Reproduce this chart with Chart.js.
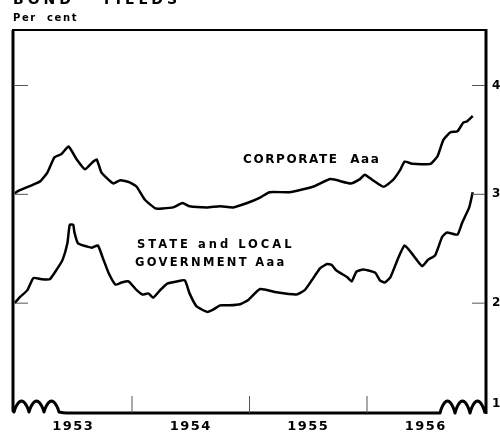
<!DOCTYPE html>
<html lang="en">
<head>
    <meta charset="UTF-8">
    <title>Bond Yields</title>
    <script src="https://cdn.jsdelivr.net/npm/chart.js"></script>
    <style>
        body {
            margin: 0;
            padding: 0;
            background-color: #fff;
        }
        #chart {
            display: block;
        }
    </style>
</head>
<body>
    <canvas id="chart" width="500" height="433"></canvas>

    <script>
        // data (year as decimal, yield in per cent)
        const corporateYears = [1953.00, 1953.05, 1953.16, 1953.22, 1953.28, 1953.34, 1953.40, 1953.46, 1953.53, 1953.60, 1953.66, 1953.70, 1953.74, 1953.84, 1953.90, 1953.98,
            1954.04, 1954.11, 1954.20, 1954.26, 1954.35, 1954.43, 1954.49, 1954.64, 1954.75, 1954.86, 1954.98,
            1955.09, 1955.17, 1955.34, 1955.54, 1955.69, 1955.86, 1955.94, 1955.98,
            1956.05, 1956.14, 1956.22, 1956.28, 1956.32, 1956.39, 1956.54, 1956.60, 1956.65, 1956.71, 1956.77, 1956.82, 1956.85, 1956.90];
        const corporateYields = [3.01, 3.04, 3.09, 3.12, 3.20, 3.34, 3.37, 3.44, 3.32, 3.23, 3.29, 3.32, 3.20, 3.10, 3.13, 3.11,
            3.07, 2.95, 2.87, 2.87, 2.88, 2.92, 2.89, 2.88, 2.89, 2.88, 2.92,
            2.97, 3.02, 3.02, 3.07, 3.14, 3.10, 3.14, 3.18,
            3.13, 3.07, 3.13, 3.22, 3.30, 3.28, 3.28, 3.35, 3.50, 3.57, 3.58, 3.66, 3.67, 3.72];

        const stateYears = [1953.00, 1953.05, 1953.11, 1953.16, 1953.23, 1953.30, 1953.36, 1953.41, 1953.45, 1953.47, 1953.50, 1953.51, 1953.54, 1953.62, 1953.66, 1953.71, 1953.75, 1953.80, 1953.86, 1953.91, 1953.97,
            1954.04, 1954.09, 1954.14, 1954.18, 1954.24, 1954.30, 1954.38, 1954.45, 1954.49, 1954.55, 1954.64, 1954.69, 1954.75, 1954.83, 1954.92, 1954.99,
            1955.09, 1955.23, 1955.40, 1955.47, 1955.53, 1955.60, 1955.66, 1955.70, 1955.74, 1955.83, 1955.87, 1955.91, 1955.97,
            1956.07, 1956.11, 1956.15, 1956.20, 1956.26, 1956.32, 1956.38, 1956.47, 1956.52, 1956.58, 1956.64, 1956.68, 1956.77, 1956.81, 1956.87, 1956.90];
        const stateYields = [2.00, 2.06, 2.12, 2.23, 2.22, 2.22, 2.31, 2.40, 2.55, 2.72, 2.72, 2.65, 2.55, 2.52, 2.51, 2.53, 2.42, 2.28, 2.17, 2.19, 2.20,
            2.12, 2.08, 2.09, 2.05, 2.12, 2.18, 2.20, 2.21, 2.09, 1.97, 1.92, 1.94, 1.98, 1.98, 1.99, 2.03,
            2.13, 2.10, 2.08, 2.12, 2.21, 2.32, 2.36, 2.35, 2.30, 2.24, 2.20, 2.29, 2.31,
            2.28, 2.21, 2.19, 2.24, 2.40, 2.53, 2.46, 2.34, 2.40, 2.44, 2.61, 2.65, 2.63, 2.74, 2.88, 3.02];

        const yearLabels = ['1953', '1954', '1955', '1956'];
        const yTicks = [1, 2, 3, 4];

        function toPoints(xs, ys) {
            return xs.map((x, i) => ({ x: x, y: ys[i] }));
        }

        const FONT = '"DejaVu Sans", sans-serif';

        // humps of the scale break, width w each
        function humps(ctx, x0, base, n, w, h) {
            for (let x = 0; x <= n * w; x++) {
                ctx.lineTo(x0 + x, base - h * Math.pow(Math.abs(Math.sin(Math.PI * x / w)), 0.8));
            }
        }

        // frame, ticks, breaks and labels drawn in the old print style
        const framePlugin = {
            id: 'frame',
            afterDraw(chart) {
                const ctx = chart.ctx;
                const xs = chart.scales.x;
                const ys = chart.scales.y;
                const a = chart.chartArea;
                const L = a.left - 1.5, R = a.right + 1.5, T = a.top, B = a.bottom + 1;
                ctx.save();
                ctx.strokeStyle = '#000';
                ctx.lineCap = 'butt';
                ctx.lineJoin = 'round';

                // top
                ctx.lineWidth = 2;
                ctx.beginPath();
                ctx.moveTo(L - 1, T);
                ctx.lineTo(R, T);
                ctx.stroke();

                // left side, bottom with breaks, right side
                ctx.lineWidth = 3;
                ctx.beginPath();
                ctx.moveTo(L, T);
                ctx.lineTo(L, B - 2);
                humps(ctx, L + 1, B - 1, 3, 15, 11);
                ctx.quadraticCurveTo(L + 50, B, L + 54, B);
                ctx.lineTo(R - 47, B);
                humps(ctx, R - 46, B, 3, 15, 12);
                ctx.moveTo(R, B + 1);
                ctx.lineTo(R, T - 1);
                ctx.stroke();

                // year ticks on bottom
                ctx.lineWidth = 1;
                ctx.strokeStyle = '#555';
                for (let i = 1; i < yearLabels.length; i++) {
                    const px = xs.getPixelForValue(1953 + i);
                    ctx.beginPath();
                    ctx.moveTo(px, B - 17);
                    ctx.lineTo(px, B);
                    ctx.stroke();
                }

                // value ticks on both sides
                yTicks.slice(1).forEach(v => {
                    const py = ys.getPixelForValue(v);
                    ctx.beginPath();
                    ctx.moveTo(L + 2, py);
                    ctx.lineTo(L + 15, py);
                    ctx.moveTo(R - 14, py);
                    ctx.lineTo(R - 1, py);
                    ctx.stroke();
                });

                ctx.fillStyle = '#000';
                ctx.font = 'bold 13px ' + FONT;
                ctx.textBaseline = 'middle';
                ctx.letterSpacing = '1.5px';

                // year labels
                ctx.textAlign = 'center';
                yearLabels.forEach((lab, i) => {
                    ctx.fillText(lab, xs.getPixelForValue(1953.5 + i), 427);
                });

                // right value labels
                ctx.textAlign = 'left';
                ctx.font = 'bold 12px ' + FONT;
                yTicks.forEach(v => {
                    const py = v === 1 ? ys.getPixelForValue(v) - 8 : ys.getPixelForValue(v);
                    ctx.fillText(String(v), R + 6, py);
                });

                // headings
                ctx.font = 'bold 10px ' + FONT;
                ctx.letterSpacing = '1.6px';
                ctx.fillText('Per  cent', 13, 18);
                ctx.font = 'bold 14px ' + FONT;
                ctx.letterSpacing = '4px';
                ctx.textBaseline = 'alphabetic';
                ctx.fillText('BOND   YIELDS', 13, 4);

                // series names
                ctx.textBaseline = 'middle';
                ctx.font = 'bold 12px ' + FONT;
                ctx.letterSpacing = '1.6px';
                ctx.fillText('CORPORATE  Aaa', 243, 160);
                ctx.font = 'bold 11.5px ' + FONT;
                ctx.letterSpacing = '3px';
                ctx.fillText('STATE and LOCAL', 137, 245);
                ctx.letterSpacing = '2.3px';
                ctx.fillText('GOVERNMENT Aaa', 135, 263);

                ctx.restore();
            }
        };

        new Chart(document.getElementById('chart'), {
            type: 'line',
            data: {
                datasets: [
                    {
                        label: 'CORPORATE Aaa',
                        data: toPoints(corporateYears, corporateYields),
                        borderColor: '#000',
                        borderWidth: 2.5,
                        pointRadius: 0,
                        tension: 0.15
                    },
                    {
                        label: 'STATE and LOCAL GOVERNMENT Aaa',
                        data: toPoints(stateYears, stateYields),
                        borderColor: '#000',
                        borderWidth: 2.5,
                        pointRadius: 0,
                        tension: 0.15
                    }
                ]
            },
            options: {
                responsive: false,
                animation: false,
                layout: {
                    padding: { left: 14.5, right: 15.5, top: 30, bottom: 21 }
                },
                plugins: {
                    legend: { display: false },
                    tooltip: { enabled: false }
                },
                scales: {
                    x: {
                        type: 'linear',
                        min: 1953,
                        max: 1957,
                        display: false
                    },
                    y: {
                        type: 'linear',
                        min: 1,
                        max: 4.51,
                        display: false
                    }
                }
            },
            plugins: [framePlugin]
        });
    </script>
</body>
</html>
